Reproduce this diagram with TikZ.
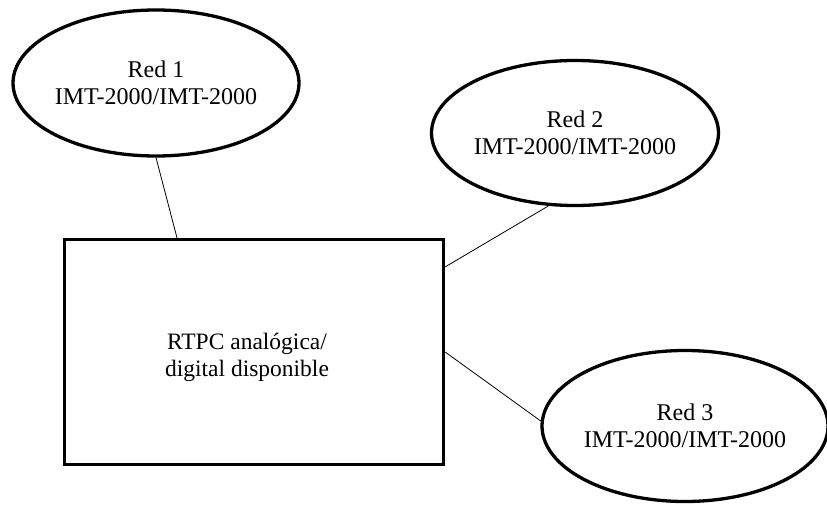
\documentclass[tikz,border=0pt]{standalone}
\usepackage{fontspec}
\setmainfont{Liberation Serif}
\usetikzlibrary{shapes.geometric}
\begin{document}
\begin{tikzpicture}[x=1pt,y=-1pt,
  net/.style={ellipse, draw, line width=3.3pt, inner sep=0pt, align=center, font=\fontsize{24}{27}\selectfont},
  box/.style={rectangle, draw, line width=3.3pt, minimum width=379pt, minimum height=225pt, inner sep=0pt},
  lbl/.style={align=center, font=\fontsize{23.5}{27}\selectfont, inner sep=0pt},
  link/.style={line width=0.8pt}]
\useasboundingbox (0,0) rectangle (827,505);
\node[net, minimum width=283pt, minimum height=146pt] (e1) at (156,83) {Red 1\\IMT-2000/IMT-2000};
\node[net, minimum width=287pt, minimum height=145pt] (e2) at (575,133) {Red 2\\IMT-2000/IMT-2000};
\node[net, minimum width=281pt, minimum height=151pt] (e3) at (685,426) {Red 3\\IMT-2000/IMT-2000};
\node[box] (r) at (254,352) {};
\node[lbl] (rt) at (247,357) {RTPC analógica/\\digital disponible};
\draw[link] (e1.south) -- (r.124);
\draw[link] (e2.250) -- (r.24);
\draw[link] (e3.178) -- (r.east);
\end{tikzpicture}
\end{document}
